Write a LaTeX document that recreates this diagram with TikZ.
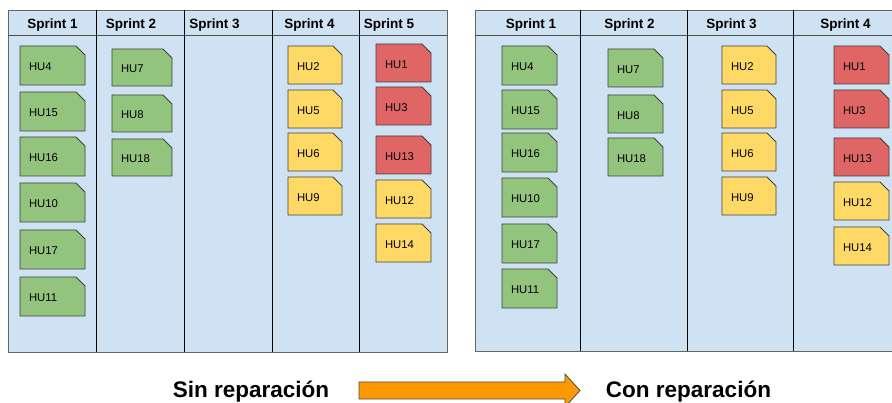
\documentclass[tikz,border=0pt]{standalone}
\usepackage{fontspec}
\setmainfont{Liberation Sans}
\usetikzlibrary{shapes.misc}

\definecolor{tablero}{HTML}{CFE2F3}
\definecolor{verde}{HTML}{93C47D}
\definecolor{amarillo}{HTML}{FFD966}
\definecolor{rojo}{HTML}{E06666}
\definecolor{naranja}{HTML}{FF9900}

\newcommand\bajar[1]{\raisebox{-1.5pt}[8pt][0pt]{#1}}

\begin{document}
\begin{tikzpicture}[x=1pt, y=-1pt]
          \tikzstyle{hu}=[chamfered rectangle, chamfered rectangle corners=north east,
            chamfered rectangle xsep=5pt, chamfered rectangle ysep=5pt,
            draw=black!75, line width=0.8pt, anchor=north west, inner xsep=5pt, inner ysep=0pt,
            outer sep=0pt, align=left, font=\fontsize{11.3}{12}\selectfont]
          \tikzstyle{cabecera}=[anchor=base, inner sep=0pt, font=\bfseries\fontsize{13.5}{15}\selectfont]
          \tikzstyle{titulo}=[anchor=base, inner sep=0pt, font=\bfseries\fontsize{22.5}{25}\selectfont]
          \tikzstyle{borde}=[fill=tablero, draw=black!60, line width=0.8pt]

          \useasboundingbox (0,0) rectangle (892,403);
          \clip (0,0) rectangle (892,403);

          % tablero sin reparacion
          \draw[borde] (8,10) rectangle (447,352);
          \draw[black!70] (8,35) -- (447,35);
          \foreach \x in {96,184,272,359}
            \draw (\x,10) -- (\x,352);
          \node[cabecera] (iS1) at (52.5,29) {Sprint 1};
          \node[cabecera] (iS2) at (131,29) {Sprint 2};
          \node[cabecera] (iS3) at (214.5,29) {Sprint 3};
          \node[cabecera] (iS4) at (309.5,29) {Sprint 4};
          \node[cabecera] (iS5) at (389,29) {Sprint 5};

          \foreach \t/\y in {HU4/46, HU15/92, HU16/137, HU10/183, HU17/230, HU11/277}
            \node[hu, fill=verde, minimum width=57, minimum height=39, text width=47] (i\t) at (20,\y) {\bajar{\t}};
          \foreach \t/\y in {HU7/49, HU8/95, HU18/139}
            \node[hu, fill=verde, minimum width=52, minimum height=37, text width=42] (i\t) at (112,\y) {\bajar{\t}};
          \foreach \t/\y in {HU2/46, HU5/90, HU6/133, HU9/177}
            \node[hu, fill=amarillo, minimum width=46, minimum height=38, text width=36] (i\t) at (288,\y) {\bajar{\t}};
          \foreach \t/\y/\c in {HU1/44/rojo, HU3/87/rojo, HU13/136/rojo, HU12/180/amarillo, HU14/224/amarillo}
            \node[hu, fill=\c, minimum width=47, minimum height=38, text width=37] (i\t) at (376,\y) {\bajar{\t}};

          % tablero con reparacion
          \draw[borde] (475,10) rectangle (896,351);
          \draw[black!70] (475,35) -- (896,35);
          \foreach \x in {580,687,793}
            \draw (\x,10) -- (\x,351);
          \node[cabecera] (dS1) at (531,29) {Sprint 1};
          \node[cabecera] (dS2) at (629.5,29) {Sprint 2};
          \node[cabecera] (dS3) at (731.5,29) {Sprint 3};
          \node[cabecera] (dS4) at (845.5,29) {Sprint 4};

          \foreach \t/\y in {HU4/46, HU15/90, HU16/133, HU10/178, HU17/224, HU11/269}
            \node[hu, fill=verde, minimum width=47, minimum height=39, text width=37] (d\t) at (502,\y) {\bajar{\t}};
          \foreach \t/\y in {HU7/49, HU8/95, HU18/138}
            \node[hu, fill=verde, minimum width=47, minimum height=38, text width=37] (d\t) at (608,\y) {\bajar{\t}};
          \foreach \t/\y in {HU2/46, HU5/90, HU6/133, HU9/177}
            \node[hu, fill=amarillo, minimum width=46, minimum height=38, text width=36] (d\t) at (722,\y) {\bajar{\t}};
          \foreach \t/\y/\c in {HU1/46/rojo, HU3/90/rojo, HU13/138/rojo, HU12/182/amarillo, HU14/227/amarillo}
            \node[hu, fill=\c, minimum width=47, minimum height=38, text width=37] (d\t) at (834,\y) {\bajar{\t}};

          % flecha
          \node[titulo] (sin) at (251,397) {Sin reparación};
          \node[titulo] (con) at (688.5,397) {Con reparación};
          \draw[fill=naranja, draw=black!70, line width=0.8pt]
            (359,382) -- (565,382) -- (565,374) -- (580,390.5) -- (565,407) -- (565,399) -- (359,399) -- cycle;

        \end{tikzpicture}
\end{document}
